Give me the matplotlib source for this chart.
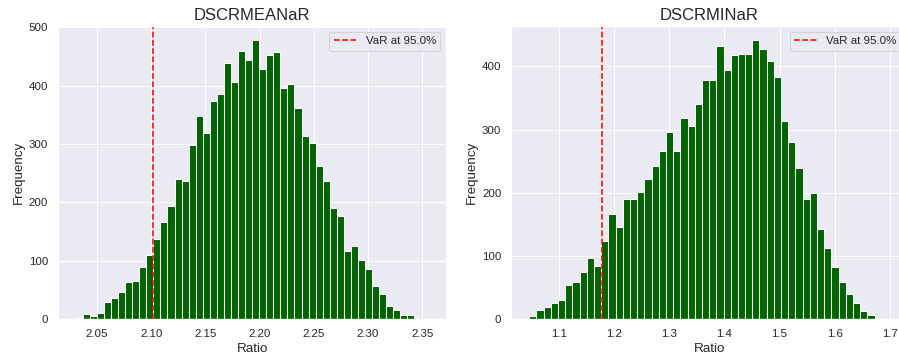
import numpy as np
import matplotlib
matplotlib.use("Agg")
import matplotlib.pyplot as plt
import seaborn as sns


# ================================
#   DATOS (leídos del histograma)
# ================================

titulos = ["DSCRMEANaR", "DSCRMINaR"]

# frecuencias por bin (50 bins cada una)
frec_mean = [2, 9, 5, 10, 29, 37, 47, 64, 65, 90,
             110, 137, 166, 193, 240, 236, 298, 348, 318, 374,
             386, 438, 406, 459, 443, 478, 429, 453, 458, 395,
             402, 362, 313, 302, 262, 236, 190, 176, 117, 126,
             102, 86, 57, 43, 23, 16, 7, 7, 0, 1]

frec_min = [5, 15, 20, 25, 30, 54, 59, 75, 97, 84,
            123, 166, 146, 190, 191, 202, 222, 243, 267, 297,
            267, 319, 306, 340, 379, 379, 432, 395, 418, 420,
            419, 442, 427, 409, 383, 313, 281, 239, 190, 199,
            142, 113, 83, 59, 40, 25, 13, 7, 1, 1]

# mínimo y máximo de cada simulación
rango_mean = [2.0304, 2.3557]
rango_min = [1.0468, 1.6983]

# VaR al 95%
var_mean = 2.1019
var_min = 1.1779
nivel = 95.0


# ================================
#   ESTILO
# ================================

sns.set_theme()
plt.rcParams["font.family"] = ["Liberation Sans", "DejaVu Sans"]
plt.rcParams["axes.labelsize"] = 12.8

fig = plt.figure(figsize=(899 / 75, 362 / 75), dpi=75)

ax1 = fig.add_axes([0.0646, 0.1182, 0.4317, 0.8100])
ax2 = fig.add_axes([0.5687, 0.1182, 0.4402, 0.8100])


def histograma(ax, frec, rango, var, titulo):
    bordes = np.linspace(rango[0], rango[1], len(frec) + 1)
    centros = (bordes[:-1] + bordes[1:]) / 2
    ax.hist(centros, bins=bordes, weights=frec, color="darkgreen")
    ax.axvline(var, color="red", linestyle="--", label=f"VaR at {nivel}%")
    ax.set_title(titulo, fontsize=16)
    ax.set_xlabel("Ratio")
    ax.set_ylabel("Frequency")
    ax.legend(loc="upper right")


histograma(ax1, frec_mean, rango_mean, var_mean, titulos[0])
histograma(ax2, frec_min, rango_min, var_min, titulos[1])

fig.savefig("out.png", dpi=75)
